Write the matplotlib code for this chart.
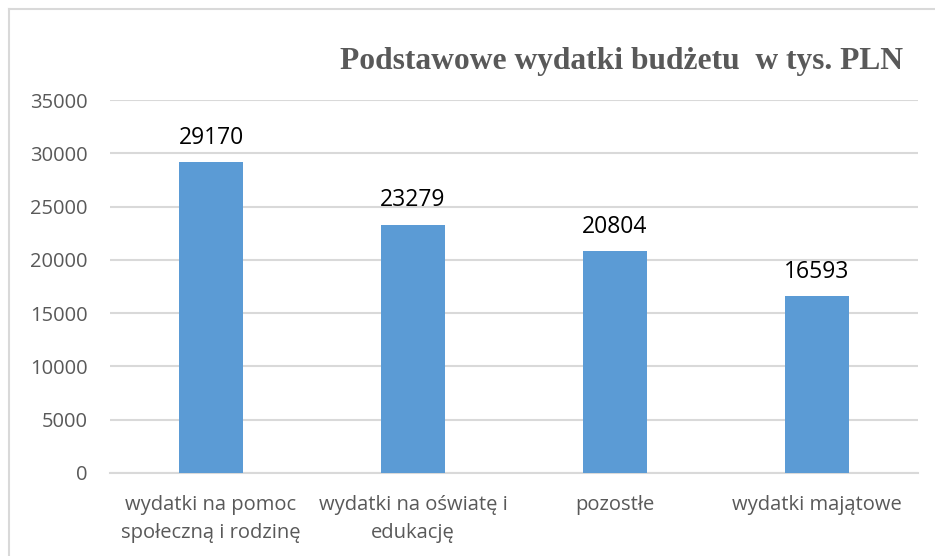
import matplotlib
matplotlib.use("Agg")
import matplotlib.pyplot as plt
from matplotlib.lines import Line2D

categories = ["wydatki na pomoc\nspołeczną i rodzinę", "wydatki na oświatę i\nedukację", "pozostłe", "wydatki majątowe"]
values = [29170, 23279, 20804, 16593]
yticks = [0, 5000, 10000, 15000, 20000, 25000, 30000, 35000]

W, H = 935, 556
fig = plt.figure(figsize=(W/100, H/100), dpi=100)
ax = fig.add_axes([110/W, 1-473/H, 808/W, 373/H])

font = "Open Sans"
x = list(range(len(categories)))
ax.bar(x, values, width=0.32, color="#5B9BD5", zorder=3)
ax.set_xlim(-0.5, len(categories)-0.5)
ax.set_ylim(0, 35000)
ax.set_yticks(yticks)
ax.set_yticklabels([str(t) for t in yticks], fontsize=14.5, color="#595959", family=font)
ax.set_xticks(x)
ax.set_xticklabels(categories, fontsize=14.5, color="#595959", family=font, linespacing=1.5)
ax.tick_params(axis="y", length=0, pad=16)
ax.tick_params(axis="x", length=0, pad=16)
ax.grid(axis="y", color="#D9D9D9", linewidth=1.5, zorder=0)
for s in ["top", "right", "left"]:
    ax.spines[s].set_visible(False)
ax.spines["bottom"].set_color("#D9D9D9")
ax.spines["bottom"].set_linewidth(1.5)

for xi, v in zip(x, values):
    ax.annotate(str(v), (xi, v), xytext=(0, 9), textcoords="offset points",
                ha="center", va="bottom", fontsize=16.5, color="black", family=font)

fig.text(903/W, 1-62/H, "Podstawowe wydatki budżetu  w tys. PLN", ha="right", va="center",
         fontsize=22.7, fontweight="bold", color="#595959", family="Liberation Serif")

fig.add_artist(Line2D([9/W, 1], [1-9/H, 1-9/H], color="#D9D9D9", linewidth=1.5, transform=fig.transFigure))
fig.add_artist(Line2D([9/W, 9/W], [0, 1-9/H], color="#D9D9D9", linewidth=1.5, transform=fig.transFigure))

fig.savefig("out.png", dpi=100)
